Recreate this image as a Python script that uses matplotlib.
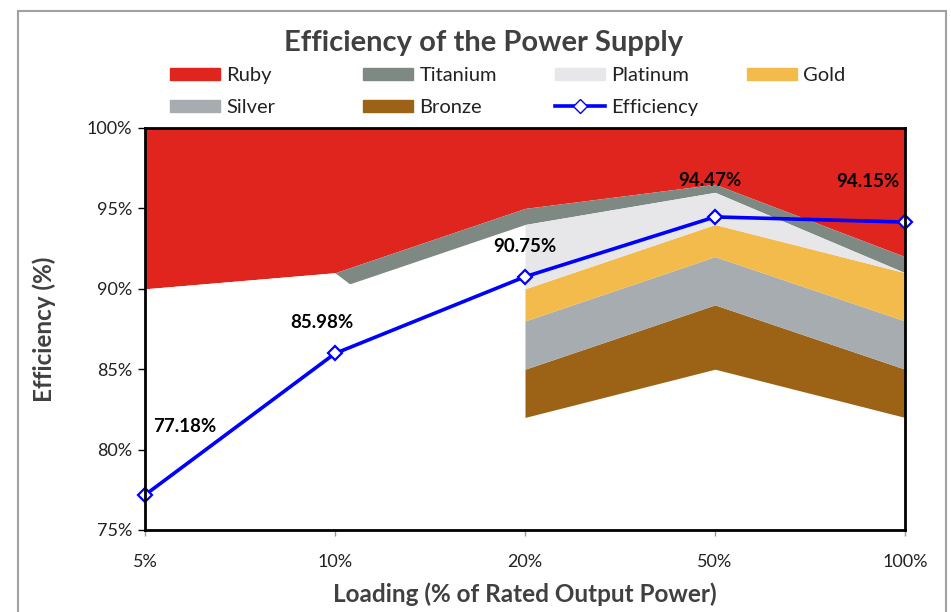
import numpy as np
import matplotlib.pyplot as plt
from matplotlib.patches import Patch, Rectangle
from matplotlib.lines import Line2D

plt.rcParams['font.family'] = ['Lato', 'DejaVu Sans']

loads = ["5%", "10%", "20%", "50%", "100%"]
nan = np.nan

# band boundaries (%)
ruby_lo = [90, 91, 95, 96.5, 92]
titanium_lo = [nan, 90, 94, 96, 91]
titanium_hi = [nan, 91, 95, 96.5, 92]
base_top = [90, 91, 82, 85, 82]
bronze_lo = [nan, nan, 82, 85, 82]
bronze_hi = [nan, nan, 85, 89, 85]
silver_hi = [nan, nan, 88, 92, 88]
gold_hi = [nan, nan, 90, 94, 91]
platinum_hi = [nan, nan, 94, 96, 91]

efficiency = [77.18, 85.98, 90.75, 94.47, 94.15]
# label offsets in pixels (dx, dy)
label_off = [(40, 68), (-13, 31), (0, 30), (-5, 36), (-37, 41)]

c_ruby = "#E0251F"
c_titanium = "#7F8984"
c_platinum = "#E7E7E9"
c_gold = "#F3BB4B"
c_silver = "#A6ACAF"
c_bronze = "#9C6316"
c_eff = "#0000FF"

fig = plt.figure(figsize=(9.51, 6.12), dpi=100)
ax = fig.add_axes([145/951, 1-530/612, 760/951, 402/612])
x = np.arange(len(loads))

ax.fill_between(x, ruby_lo, 100, color=c_ruby, lw=0, zorder=1)
ax.fill_between(x, titanium_lo, titanium_hi, color=c_titanium, lw=0, zorder=1)
ax.fill_between(x, 75, base_top, color="white", lw=0, zorder=1)
ax.fill_between(x, bronze_lo, bronze_hi, color=c_bronze, lw=0, zorder=1)
ax.fill_between(x, bronze_hi, silver_hi, color=c_silver, lw=0, zorder=1)
ax.fill_between(x, silver_hi, gold_hi, color=c_gold, lw=0, zorder=1)
ax.fill_between(x, gold_hi, platinum_hi, color=c_platinum, lw=0, zorder=1)

ax.plot(x, efficiency, color=c_eff, lw=2.6, marker="D", markersize=7.5,
        markerfacecolor="white", markeredgecolor=c_eff, markeredgewidth=1.6,
        zorder=5, clip_on=False)
for xi, v, (dx, dy) in zip(x, efficiency, label_off):
    ax.annotate(f"{v:.2f}%", (xi, v), xytext=(dx, dy), textcoords="offset pixels",
                ha="center", va="center", fontsize=13.5, fontweight="bold",
                color="black", zorder=6)

ax.set_xlim(0, 4)
ax.set_ylim(75, 100)
ax.set_xticks(x)
ax.set_xticklabels(loads)
ax.set_yticks(np.arange(75, 101, 5))
ax.set_yticklabels([f"{v}%" for v in range(75, 101, 5)])
ax.tick_params(axis="y", direction="out", length=5, width=1, color="black",
               labelsize=13, labelcolor="#222222", pad=4)
ax.tick_params(axis="x", direction="out", length=4, width=1, color="#999999",
               labelsize=13, labelcolor="#222222", pad=13)
for s in ax.spines.values():
    s.set_color("black")
    s.set_linewidth(2)
    s.set_zorder(7)

ax.set_xlabel("Loading (% of Rated Output Power)", fontsize=17.5, fontweight="bold",
              color="#404040", labelpad=9)
ax.set_ylabel("Efficiency (%)", fontsize=17.5, fontweight="bold",
              color="#404040", labelpad=22)

fig.text(484/951, 1-43/612, "Efficiency of the Power Supply", ha="center", va="center",
         fontsize=21, fontweight="bold", color="#404040")

h = {
    "Ruby": Patch(color=c_ruby), "Titanium": Patch(color=c_titanium),
    "Platinum": Patch(color=c_platinum), "Gold": Patch(color=c_gold),
    "Silver": Patch(color=c_silver), "Bronze": Patch(color=c_bronze),
    "Efficiency": Line2D([], [], color=c_eff, lw=2.6, marker="D", markersize=7.5,
                         markerfacecolor="white", markeredgecolor=c_eff),
}
columns = [["Ruby", "Silver"], ["Titanium", "Bronze"], ["Platinum", "Efficiency"], ["Gold"]]
col_x = [170, 363, 555, 747]
for names, cx in zip(columns, col_x):
    leg = fig.legend([h[k] for k in names], names, loc="upper left",
                     bbox_to_anchor=(cx/951, 1-67/612), frameon=False, fontsize=14.5,
                     handlelength=2.5, handleheight=0.6, handletextpad=0.3,
                     labelspacing=0.75, borderaxespad=0, borderpad=0)
    for t in leg.get_texts():
        t.set_color("#222222")

fig.patches.append(Rectangle((18/951, -0.1), 928/951, 1.1 - 11/612, transform=fig.transFigure,
                             fill=False, edgecolor="#A0A0A0", lw=1.5, clip_on=False))

fig.savefig("out.png", dpi=100)
